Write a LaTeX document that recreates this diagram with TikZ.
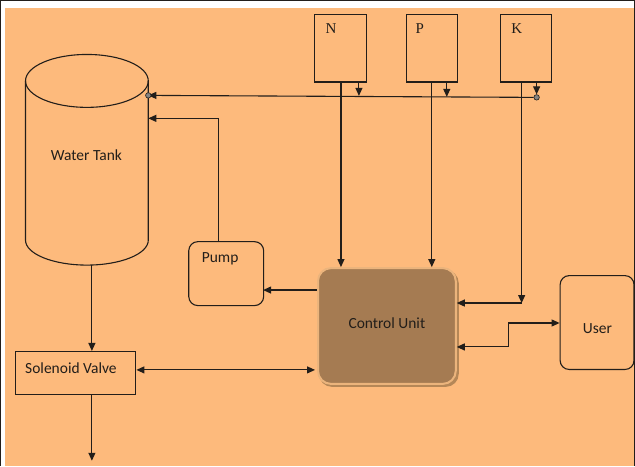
\documentclass[tikz,border=0pt]{standalone}
\usepackage{fontspec}
\setmainfont{Carlito}
\newfontfamily\npkfont{Liberation Serif}
\usetikzlibrary{arrows.meta}
\definecolor{bg}{HTML}{FDBA7C}
\definecolor{cu}{HTML}{A57B52}
\definecolor{cuedge}{HTML}{EBB47C}
\definecolor{cushadow}{HTML}{B58757}
\definecolor{ink}{HTML}{221E1A}
\begin{document}
\begin{tikzpicture}[x=1pt,y=-1pt,
  line width=1.1pt,
  every path/.style={draw=ink},
  arr/.style={-{Triangle[length=8pt,width=7pt]}},
  darr/.style={{Triangle[length=8pt,width=7pt]}-{Triangle[length=8pt,width=7pt]}},
  sqbox/.style={draw=ink, rectangle, inner sep=0pt, anchor=north west},
  rbox/.style={draw=ink, rectangle, rounded corners=9pt, inner sep=0pt, anchor=north west},
  txt/.style={inner sep=0pt, font=\fontsize{15.5}{17}\selectfont, text=ink},
  serif/.style={inner sep=0pt, font=\npkfont\fontsize{15}{17}\selectfont, text=ink},
  dot/.style={circle, fill=ink!55, draw=ink, inner sep=0pt, minimum size=5.5pt, line width=0.6pt}
]
\useasboundingbox (0,0) rectangle (635,466);
\fill[white, draw=none] (0,0) rectangle (635,466);
\fill[bg, draw=none] (4,7) rectangle (635,466);

% Water tank (cylinder)
\draw (86.5,80.5) ellipse [x radius=61.5pt, y radius=26.5pt];
\draw (25,80.5) -- (25,240) arc[start angle=180, end angle=360, x radius=61.5pt, y radius=25pt] -- (148,80.5);
\node[txt] (tanklabel) at (86,155) {Water Tank};
\coordinate (tankbot) at (91.5,265);
\coordinate (tankin1) at (148,95);
\coordinate (tankin2) at (148,118);

% N P K boxes
\node[sqbox, minimum width=52pt, minimum height=68pt] (nbox) at (314,13) {};
\node[sqbox, minimum width=51pt, minimum height=68pt] (pbox) at (406,13) {};
\node[sqbox, minimum width=51pt, minimum height=68pt] (kbox) at (500,13) {};
\node[serif] (nlab) at (331,28) {N};
\node[serif] (plab) at (420,28) {P};
\node[serif] (klab) at (517,28) {K};

% Control unit
\fill[cushadow, draw=none, rounded corners=13pt] (319,270) rectangle (459,387);
\node[rbox, rounded corners=13pt, fill=cu, draw=cuedge, line width=2pt, minimum width=138pt, minimum height=116pt] (cu) at (317,267) {};
\node[txt] (culab) at (387,323) {Control Unit};

% Pump
\node[rbox, minimum width=75pt, minimum height=64pt] (pump) at (188,241) {};
\node[txt] (pumplab) at (220,259) {Pump};

% User
\node[rbox, minimum width=74pt, minimum height=94pt] (user) at (560,275) {};
\node[txt] (userlab) at (598,329) {User};

% Solenoid valve
\node[sqbox, minimum width=121pt, minimum height=43pt] (valve) at (14,351) {};
\node[txt] (valvelab) at (70.5,368) {Solenoid Valve};
\coordinate (out) at (91.5,461);

% Sensor bus
\coordinate (bn) at (359,95.5);
\coordinate (bp) at (447,96.5);
\coordinate (bk) at (537,97);
\draw[arr] (nbox.south -| bn) -- (bn);
\draw[arr] (pbox.south -| bp) -- (bp);
\draw[arr] (kbox.south -| bk) -- ([yshift=3pt]bk);
\node[dot] (kdot) at (bk) {};
\draw[arr] (kdot.west) -- (tankin1);
\node[dot] (tdot) at (tankin1) {};

% N, P, K to control unit
\draw[arr] (341,81) -- (341,267);
\draw[arr] (432,81) -- (432,267);
\coordinate (kcorner) at (522,303);
\draw[arr] (522,81) -- (kcorner);
\draw[arr] (kcorner) -- (457,303);

% Pump loop
\draw[arr] (pump.north -| 218,0) -- (218,118) -- (tankin2);
\draw[arr] (317,290) -- (263,290);

% Control unit <-> user
\draw[darr] (457,347) -- (509,347) -- (509,323) -- (user.west |- 0,323);

% Tank -> valve -> out
\draw[arr] (tankbot) -- (valve.north -| tankbot);
\draw[arr] (valve.south -| out) -- (out);
\draw[darr] (valve.east |- 0,370) -- (315,370);
\end{tikzpicture}
\end{document}
